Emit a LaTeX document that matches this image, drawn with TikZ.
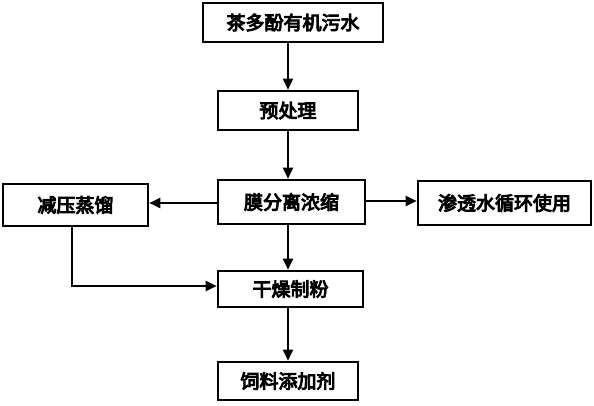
\documentclass[tikz,border=0pt]{standalone}
\usepackage{fontspec}
\newfontfamily\cjk{Noto Sans CJK SC}[FakeBold=5]
\usetikzlibrary{arrows.meta}
\begin{document}
\begin{tikzpicture}[x=1pt,y=-1pt,
  box/.style={draw,line width=2.6pt,rectangle,inner sep=0pt,
    font=\cjk\fontsize{19}{21}\selectfont},
  arr/.style={line width=2.2pt,-{Triangle[length=11pt,width=10pt]}}]
\useasboundingbox (0,0) rectangle (594,405);
\node[box,minimum width=180pt,minimum height=39pt] (src) at (293,22.5) {茶多酚有机污水};
\node[box,minimum width=140pt,minimum height=39pt] (pre) at (288,110.5) {预处理};
\node[box,minimum width=147pt,minimum height=44pt] (mem) at (291.5,202) {膜分离浓缩};
\node[box,minimum width=145pt,minimum height=42pt] (dist) at (75.5,205) {减压蒸馏};
\node[box,minimum width=173pt,minimum height=44pt] (recy) at (504.5,203) {渗透水循环使用};
\node[box,minimum width=145pt,minimum height=36pt] (dry) at (290.5,289) {干燥制粉};
\node[box,minimum width=140pt,minimum height=38pt] (feed) at (288,381) {饲料添加剂};
\coordinate (c1) at (288,0);
\coordinate (dx) at (72,0);
\coordinate (dy) at (0,286);
\draw[arr] (src.south -| c1) -- (pre.north -| c1);
\draw[arr] (pre.south -| c1) -- (mem.north -| c1);
\draw[arr] (mem.west |- 0,203) -- (dist.east |- 0,203);
\draw[arr] (mem.east |- 0,201) -- (recy.west |- 0,201);
\draw[arr] (mem.south -| c1) -- (dry.north -| c1);
\draw[arr] (dry.south -| c1) -- (feed.north -| c1);
\draw[arr] (dist.south -| dx) -- (dx |- dy) -- (dry.west |- dy);
\end{tikzpicture}
\end{document}
